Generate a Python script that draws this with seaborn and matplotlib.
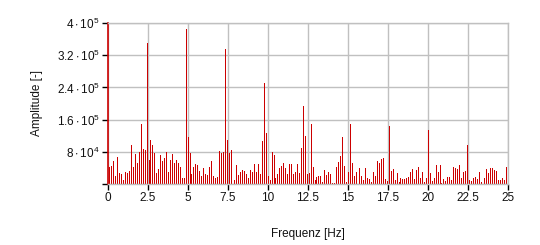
import numpy as np
import pandas as pd
import matplotlib
matplotlib.use("Agg")
import matplotlib.pyplot as plt
import seaborn as sns

# frequency resolution of the spectrum [Hz]
DF = 1 / 8.192

# amplitudes in units of 1e4
amp_e4 = [
    1.2, 4.1, 4.4, 5.6, 2.0, 6.8, 2.8, 2.4, 1.0, 3.0,
    2.8, 3.2, 9.7, 4.2, 7.4, 5.3, 8.0, 15.0, 8.8, 8.5,
    35.0, 6.0, 11.0, 9.7, 7.7, 2.8, 3.8, 7.3, 5.8, 6.5,
    8.0, 3.0, 6.0, 7.5, 5.2, 6.0, 5.3, 4.3, 1.6, 1.5,
    38.5, 11.6, 7.6, 2.5, 4.2, 5.0, 4.6, 3.2, 2.0, 4.0,
    2.4, 2.3, 4.2, 5.6, 2.0, 1.6, 1.8, 8.3, 7.8, 8.0,
    33.5, 10.9, 7.6, 8.5, 2.0, 1.0, 4.6, 2.2, 3.0, 3.6,
    3.2, 2.6, 1.5, 3.4, 3.0, 5.0, 3.0, 5.0, 2.4, 10.6,
    25.0, 12.7, 2.0, 1.0, 8.0, 7.3, 1.6, 2.5, 4.0, 4.5,
    5.2, 4.0, 2.5, 5.0, 5.0, 2.5, 3.0, 5.0, 2.8, 9.0,
    19.5, 12.0, 2.5, 2.8, 14.9, 4.25, 0.9, 1.7, 2.1, 1.9,
    0.5, 3.4, 2.2, 2.9, 2.4, 0.3, 0.2, 4.25, 5.4, 7.0,
    11.6, 4.5, 0.6, 3.1, 14.9, 5.2, 2.0, 3.0, 0.5, 3.9,
    2.0, 0.9, 3.9, 1.6, 1.2, 0.5, 3.0, 2.0, 5.8, 5.1,
    6.1, 6.4, 1.3, 0.8, 14.5, 3.25, 3.7, 1.1, 2.75, 0.4,
    1.6, 1.2, 1.25, 1.5, 1.8, 2.9, 3.7, 1.2, 3.5, 4.1,
    1.5, 3.1, 0.5, 1.5, 13.5, 2.75, 0.75, 1.5, 4.75, 3.0,
    4.75, 0.25, 1.35, 0.7, 1.8, 1.8, 1.0, 4.25, 4.0, 3.7,
    4.6, 1.6, 2.9, 3.2, 9.75, 1.1, 0.75, 1.6, 1.8, 1.25,
    3.0, 0.5, 1.6, 1.6, 3.7, 2.75, 3.95, 3.95, 3.5, 3.3,
    1.1, 1.0, 1.5, 1.0, 4.1,
]

x_ticks = [0, 2.5, 5, 7.5, 10, 12.5, 15, 17.5, 20, 22.5, 25]
x_tick_labels = ["0", "2.5", "5", "7.5", "10", "12.5", "15", "17.5", "20", "22.5", "25"]
y_ticks = [0, 8e4, 1.6e5, 2.4e5, 3.2e5, 4e5]
y_tick_labels = ["", r"$8\cdot10^4$", r"$1.6\cdot10^5$", r"$2.4\cdot10^5$",
                 r"$3.2\cdot10^5$", r"$4\cdot10^5$"]

amp = np.array(amp_e4) * 1e4
freq = np.arange(len(amp)) * DF
df = pd.DataFrame({"Frequenz": freq, "Amplitude": amp})

sns.set_theme(style="white")
plt.rcParams["font.family"] = ["Liberation Sans", "DejaVu Sans"]
plt.rcParams["mathtext.fontset"] = "custom"
plt.rcParams["mathtext.rm"] = "Liberation Sans"
plt.rcParams["mathtext.it"] = "Liberation Sans"
plt.rcParams["mathtext.bf"] = "Liberation Sans"
plt.rcParams["mathtext.default"] = "regular"

fig = plt.figure(figsize=(5.4, 2.45), dpi=100)
ax = fig.add_axes([108 / 540, 1 - 184 / 245, 400 / 540, 161 / 245])

sns.barplot(data=df, x="Frequenz", y="Amplitude", native_scale=True,
            errorbar=None, color="#cc0000", saturation=1, width=0.5,
            linewidth=0, antialiased=False, ax=ax)

ax.set_xlim(0, 25)
ax.set_ylim(0, 4e5)
ax.set_xticks(x_ticks)
ax.set_xticklabels(x_tick_labels, fontsize=8.5, color="#111111")
ax.set_yticks(y_ticks)
ax.set_yticklabels(y_tick_labels, fontsize=8.5, color="#111111")

ax.grid(True, color="#c0c0c0", linewidth=1)
ax.set_axisbelow(True)
for s in ["top", "right", "bottom"]:
    ax.spines[s].set_color("#c0c0c0")
    ax.spines[s].set_linewidth(1)
ax.spines["left"].set_color("#cc0000")
ax.spines["left"].set_linewidth(1.2)

ax.tick_params(axis="both", direction="out", length=4, width=1,
               color="black", pad=2, left=True, bottom=True)

ax.set_xlabel("Frequenz [Hz]", fontsize=8.5, color="#111111", labelpad=17)
ax.set_ylabel("Amplitude [-]", fontsize=8.5, color="#111111", labelpad=10)

fig.savefig("out.png", dpi=100, facecolor="white")
